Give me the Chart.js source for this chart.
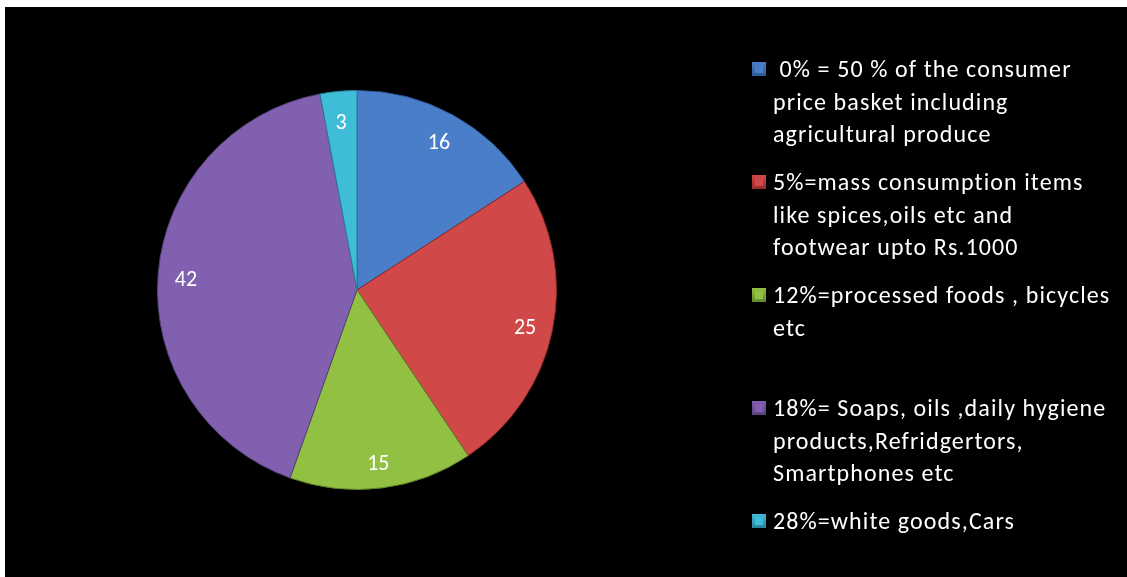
<!DOCTYPE html>
<html>
<head>
<meta charset="utf-8">
<script src="https://cdn.jsdelivr.net/npm/chart.js@4/dist/chart.umd.min.js"></script>
<style>
  body { margin: 0; background: #fff; }
  #wrap { position: absolute; left: 5px; top: 7px; width: 1122px; height: 570px; background: #000; }
</style>
</head>
<body>
<div id="wrap"><canvas id="chart" width="1122" height="570"></canvas></div>
<script>
const labels = [
  [' 0% = 50 % of the consumer', 'price basket including', 'agricultural produce'],
  ['5%=mass consumption items', 'like spices,oils etc and', 'footwear upto Rs.1000'],
  ['12%=processed foods , bicycles', 'etc'],
  ['18%= Soaps, oils ,daily hygiene', 'products,Refridgertors,', 'Smartphones etc'],
  ['28%=white goods,Cars']
];
const values = [16, 25, 15, 42, 3];
const colors = ['#4a7ec9', '#d04848', '#92c042', '#8260b0', '#3fbcd8'];
const edgeColors = ['#2c5794', '#8f2a2a', '#5f8228', '#56407a', '#267f94'];

const FONT = 'Carlito, Lato, "Open Sans", sans-serif';

// value labels inside the slices
const sliceLabels = {
  id: 'sliceLabels',
  afterDatasetsDraw(chart) {
    const ctx = chart.ctx;
    const meta = chart.getDatasetMeta(0);
    ctx.save();
    ctx.fillStyle = '#fff';
    ctx.font = '22px ' + FONT;
    ctx.textAlign = 'center';
    ctx.textBaseline = 'middle';
    meta.data.forEach((arc, i) => {
      const p = arc.getProps(['x', 'y', 'startAngle', 'endAngle', 'outerRadius'], true);
      const mid = (p.startAngle + p.endAngle) / 2;
      const r = p.outerRadius * 0.86;
      ctx.fillText(String(values[i]), p.x + Math.cos(mid) * r, p.y + Math.sin(mid) * r + 4);
    });
    ctx.restore();
  }
};

// legend on the right, one slot per item
const sideLegend = {
  id: 'sideLegend',
  afterDraw(chart) {
    const ctx = chart.ctx;
    ctx.save();
    ctx.font = '24px ' + FONT;
    ctx.letterSpacing = '1.1px';
    ctx.textBaseline = 'alphabetic';
    chart.data.labels.forEach((lines, i) => {
      const base = 70 + 113 * i;
      const g = ctx.createLinearGradient(0, base - 15, 0, base);
      g.addColorStop(0, colors[i]);
      g.addColorStop(1, edgeColors[i]);
      ctx.fillStyle = g;
      ctx.fillRect(747, base - 15, 14, 14);
      ctx.fillStyle = colors[i];
      ctx.fillRect(750, base - 12, 8, 8);
      ctx.fillStyle = '#fff';
      lines.forEach((t, j) => ctx.fillText(t, 768, base + j * 32.5));
    });
    ctx.restore();
  }
};

new Chart(document.getElementById('chart'), {
  type: 'pie',
  data: {
    labels: labels,
    datasets: [{
      data: values,
      backgroundColor: colors,
      borderColor: edgeColors,
      borderWidth: 1
    }]
  },
  options: {
    responsive: false,
    animation: false,
    layout: { padding: { left: 152, right: 570, top: 83, bottom: 87 } },
    plugins: {
      legend: { display: false },
      tooltip: { enabled: false }
    }
  },
  plugins: [sliceLabels, sideLegend]
});
</script>
</body>
</html>
